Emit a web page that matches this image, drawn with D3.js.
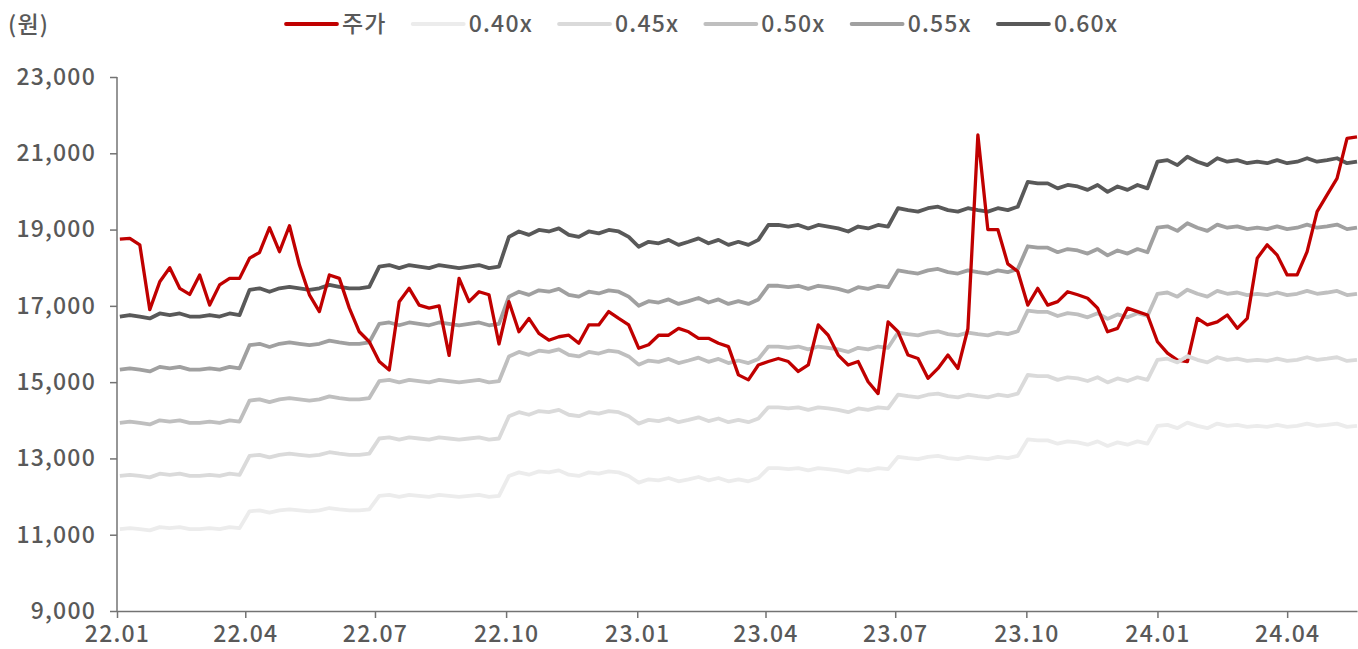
<!DOCTYPE html>
<html>
<head>
<meta charset="utf-8">
<script src="https://cdn.jsdelivr.net/npm/d3@7"></script>
<style>
  body { margin: 0; background: #fff; }
  svg text { font-family: "Noto Sans CJK KR", "Noto Sans", sans-serif; fill: #595959; font-weight: 500; letter-spacing: 1.2px; }
</style>
</head>
<body>
<svg id="chart" width="1358" height="649"></svg>
<script>
// weekly points, first one on 2022-01-03
const firstWeek = new Date(2022, 0, 3)

const price = [
  18750, 18770, 18600, 16900, 17630, 18000, 17460, 17300, 17810, 17020, 17550, 17720, 17720,
  18250, 18400, 19050, 18420, 19100, 18070, 17290, 16850, 17810, 17720, 16940, 16320, 16060,
  15540, 15320, 17110, 17460, 17020, 16940, 17000, 15700, 17720, 17110, 17370, 17290, 16000,
  17110, 16320, 16670, 16280, 16100, 16190, 16230, 16020, 16500, 16500, 16850, 16670, 16500,
  15890, 15980, 16230, 16230, 16410, 16320, 16150, 16150, 16020, 15930, 15190, 15060, 15450,
  15540, 15620, 15540, 15280, 15450, 16500, 16230, 15710, 15450, 15540, 15010, 14700, 16580,
  16320, 15710, 15620, 15100, 15360, 15710, 15360, 16400, 21480, 19000, 19000, 18100, 17900,
  17020, 17460, 17020, 17110, 17370, 17290, 17200, 16940, 16320, 16410, 16940, 16850, 16760,
  16060, 15760, 15580, 15540, 16670, 16500, 16580, 16760, 16410, 16670, 18250, 18600, 18330,
  17810, 17810, 18420, 19470, 19910, 20340, 21390, 21430
]

// 0.60x band, other bands scale from it
const band060 = [
  16720, 16760, 16720, 16670, 16800, 16760, 16800, 16720, 16720, 16760, 16720, 16800, 16760,
  17420, 17460, 17370, 17460, 17500, 17460, 17420, 17460, 17550, 17500, 17460, 17460, 17500,
  18030, 18070, 17990, 18070, 18030, 17990, 18070, 18030, 17990, 18030, 18070, 17990, 18030,
  18810, 18950, 18860, 18990, 18950, 19030, 18860, 18810, 18950, 18900, 18990, 18950, 18810,
  18550, 18680, 18640, 18730, 18600, 18680, 18770, 18640, 18730, 18600, 18680, 18600, 18730,
  19120, 19120, 19080, 19120, 19030, 19120, 19080, 19030, 18950, 19080, 19030, 19120, 19080,
  19560, 19510, 19470, 19560, 19600, 19510, 19470, 19560, 19510, 19470, 19560, 19510, 19600,
  20250, 20210, 20210, 20080, 20170, 20130, 20040, 20170, 19990, 20130, 20040, 20170, 20080,
  20780, 20820, 20690, 20910, 20780, 20690, 20870, 20780, 20820, 20740, 20780, 20740, 20820,
  20740, 20780, 20870, 20780, 20820, 20870, 20740, 20780
]

const multiples = [0.40, 0.45, 0.50, 0.55, 0.60]
const bandLabels = ["0.40x", "0.45x", "0.50x", "0.55x", "0.60x"]
const bandColors = ["#ececec", "#dadada", "#bfbfbf", "#a0a0a0", "#595959"]
const priceLabel = "주가"
const priceColor = "#c00000"
const yTicks = [9000, 11000, 13000, 15000, 17000, 19000, 21000, 23000]

const dates = price.map((d, i) => d3.timeDay.offset(firstWeek, 7 * i))

const svg = d3.select("#chart")

const x = d3.scaleTime()
  .domain([new Date(2022, 0, 1), dates[dates.length - 1]])
  .range([117, 1357])

const y = d3.scaleLinear()
  .domain([9000, 23000])
  .range([611, 77])

// axes
const yAxis = svg.append("g")
  .attr("transform", "translate(117,0)")
  .call(d3.axisLeft(y).tickValues(yTicks).tickFormat(d3.format(",")).tickSize(7).tickPadding(14))
const xAxis = svg.append("g")
  .attr("transform", "translate(0,611)")
  .call(d3.axisBottom(x).ticks(d3.timeMonth.every(3)).tickFormat(d3.timeFormat("%y.%m")).tickSizeInner(7).tickSizeOuter(0).tickPadding(8))

svg.selectAll(".domain, .tick line").attr("stroke", "#737373").attr("stroke-width", 1.5)
svg.selectAll(".tick text").attr("font-size", 23).attr("fill", "#595959")
yAxis.select(".domain").attr("d", "M0,77V611")

// lines
const line = d3.line()
  .x((d, i) => x(dates[i]))
  .y(d => y(d))

function bandValues(m) {
  return band060.map(v => v * m / 0.6)
}

const drawOrder = [4, 3, 2, "price", 1, 0]
drawOrder.forEach(k => {
  if (k === "price") {
    svg.append("path")
      .datum(price)
      .attr("fill", "none")
      .attr("stroke", priceColor)
      .attr("stroke-width", 3.3)
      .attr("stroke-linejoin", "round")
      .attr("d", line)
  } else {
    svg.append("path")
      .datum(bandValues(multiples[k]))
      .attr("fill", "none")
      .attr("stroke", bandColors[k])
      .attr("stroke-width", 3.8)
      .attr("stroke-linejoin", "round")
      .attr("d", line)
  }
})

// unit label
svg.append("text")
  .attr("x", 8)
  .attr("y", 33)
  .attr("font-size", 23)
  .text("(원)")

// legend
const legendItems = [{ label: priceLabel, color: priceColor }]
  .concat(bandLabels.map((l, i) => ({ label: l, color: bandColors[i] })))

let lx = 286
legendItems.forEach(item => {
  svg.append("line")
    .attr("x1", lx).attr("x2", lx + 51)
    .attr("y1", 24).attr("y2", 24)
    .attr("stroke", item.color)
    .attr("stroke-width", 3.8)
    .attr("stroke-linecap", "round")
  const t = svg.append("text")
    .attr("x", lx + 56)
    .attr("y", 32)
    .attr("font-size", 23)
    .text(item.label)
  lx = lx + 56 + t.node().getComputedTextLength() + 26
})
</script>
</body>
</html>
